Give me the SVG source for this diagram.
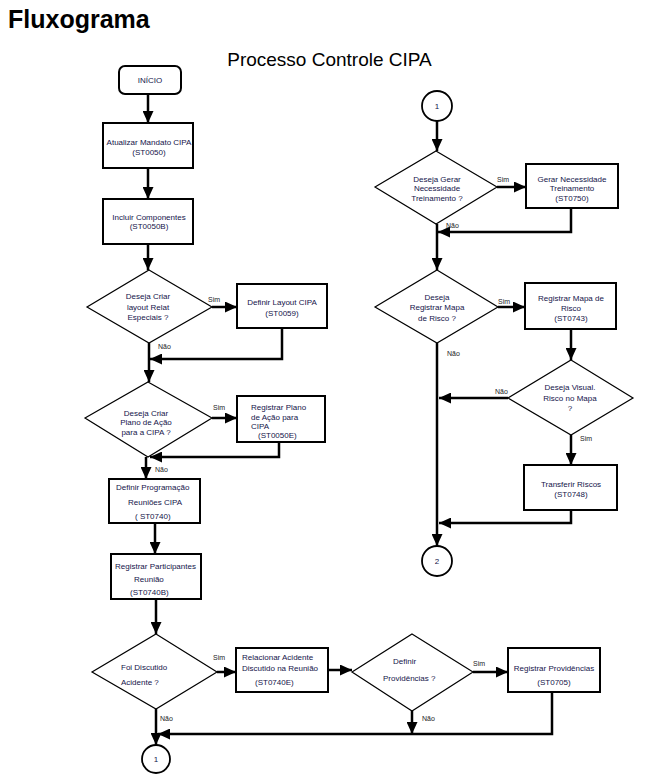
<svg xmlns="http://www.w3.org/2000/svg" width="646" height="778" viewBox="0 0 646 778">
<defs>
<marker id="ah" markerUnits="userSpaceOnUse" markerWidth="12" markerHeight="11" refX="12" refY="5.5" orient="auto">
<path d="M0,0 L12,5.5 L0,11 z" fill="#000"/>
</marker>
<style>
.box{fill:#fff;stroke:#000;stroke-width:2}
.dia{fill:#fff;stroke:#000;stroke-width:1.2}
.cir{fill:#fff;stroke:#000;stroke-width:1.8}
.t{font-family:"Liberation Sans",Arial,sans-serif;font-size:8px;fill:#14144a}
.m{text-anchor:middle}
.lbl{font-family:"Liberation Sans",Arial,sans-serif;font-size:7px;fill:#222}
.c{fill:none;stroke:#000;stroke-width:2.5}
.ca{fill:none;stroke:#000;stroke-width:2.5;marker-end:url(#ah)}
</style>
</defs>
<rect width="646" height="778" fill="#fff"/>
<text x="8" y="28" font-family="Liberation Sans,Arial,sans-serif" font-size="25" font-weight="bold" fill="#000">Fluxograma</text>
<text x="329.5" y="66" font-family="Liberation Sans,Arial,sans-serif" font-size="19" fill="#000" text-anchor="middle">Processo Controle CIPA</text>

<g id="connectors">
<path class="ca" d="M148,94 V123"/>
<path class="ca" d="M148,168 V199"/>
<path class="ca" d="M148,244 V270"/>
<path class="ca" d="M212,307 H237"/>
<path class="ca" d="M282,328 V359 H150"/>
<path class="ca" d="M149,343 V382"/>
<path class="ca" d="M212,418 H237"/>
<path class="ca" d="M279,442 V457 H150"/>
<path class="ca" d="M146,457 V479"/>
<path class="ca" d="M155,523 V554"/>
<path class="ca" d="M156,599 V634"/>
<path class="ca" d="M217,672 H236"/>
<path class="ca" d="M328,670 H352"/>
<path class="ca" d="M473,672 H508"/>
<path class="ca" d="M552,692 V734 H158"/>
<path class="ca" d="M412,711 V734"/>
<path class="ca" d="M156,709 V745"/>
<path class="ca" d="M437,121 V151"/>
<path class="ca" d="M497,187 H526"/>
<path class="ca" d="M571,208 V232 H438"/>
<path class="ca" d="M437,224 V270"/>
<path class="ca" d="M498,307 H525"/>
<path class="ca" d="M571,329 V360"/>
<path class="ca" d="M508,398 H439"/>
<path class="ca" d="M437,343 V546"/>
<path class="ca" d="M571,435 V465"/>
<path class="ca" d="M571,510 V523 H439"/>
<g class="lbl">
<text x="208" y="302">Sim</text>
<text x="158" y="349">Não</text>
<text x="213" y="410">Sim</text>
<text x="155" y="472">Não</text>
<text x="213" y="660">Sim</text>
<text x="160" y="721">Não</text>
<text x="473" y="666">Sim</text>
<text x="422" y="721">Não</text>
<text x="497" y="182">Sim</text>
<text x="446" y="228">Não</text>
<text x="498" y="304">Sim</text>
<text x="447" y="356">Não</text>
<text x="495" y="394">Não</text>
<text x="580" y="441">Sim</text>
</g>
</g>

<g id="inicio">
<rect x="119" y="66" width="62" height="28" rx="6" class="box"/>
<text x="150" y="83" class="t m">INÍCIO</text>
</g>
<g id="st0050">
<rect x="103" y="123" width="90" height="45" class="box"/>
<text x="149" y="145" class="t m">Atualizar Mandato CIPA</text>
<text x="149" y="155" class="t m">(ST0050)</text>
</g>
<g id="st0050b">
<rect x="103" y="199" width="90" height="45" class="box"/>
<text x="149" y="220" class="t m">Incluir Componentes</text>
<text x="149" y="229" class="t m">(ST0050B)</text>
</g>
<g id="dec-layout">
<polygon points="149,270 212,307 149,343 87,307" class="dia"/>
<text x="148" y="299" class="t m">Deseja Criar</text>
<text x="148" y="310" class="t m">layout Relat</text>
<text x="148" y="320" class="t m">Especiais ?</text>
</g>
<g id="st0059">
<rect x="237" y="284" width="90" height="44" class="box"/>
<text x="282" y="305" class="t m">Definir Layout CIPA</text>
<text x="282" y="316" class="t m">(ST0059)</text>
</g>
<g id="dec-plano">
<polygon points="148,382 212,418 148,457 85,418" class="dia"/>
<text x="146" y="416" class="t m">Deseja Criar</text>
<text x="146" y="425" class="t m">Plano de Ação</text>
<text x="146" y="435" class="t m">para a CIPA ?</text>
</g>
<g id="st0050e">
<rect x="237" y="396" width="88" height="46" class="box"/>
<text x="251" y="410" class="t">Registrar Plano</text>
<text x="251" y="420" class="t">de Ação para</text>
<text x="251" y="429" class="t">CIPA</text>
<text x="258" y="438" class="t">(ST0050E)</text>
</g>
<g id="st0740">
<rect x="109" y="479" width="91" height="44" class="box"/>
<text x="116" y="490" class="t">Definir Programação</text>
<text x="128" y="505" class="t">Reuniões CIPA</text>
<text x="135" y="519" class="t">( ST0740)</text>
</g>
<g id="st0740b">
<rect x="111" y="554" width="90" height="45" class="box"/>
<text x="115" y="569" class="t">Registrar Participantes</text>
<text x="134" y="582" class="t">Reunião</text>
<text x="130" y="595" class="t">(ST0740B)</text>
</g>
<g id="dec-acidente">
<polygon points="156,634 217,672 156,709 92,672" class="dia"/>
<text x="121" y="670" class="t">Foi Discutido</text>
<text x="121" y="685" class="t">Acidente ?</text>
</g>
<g id="st0740e">
<rect x="236" y="648" width="92" height="44" class="box"/>
<text x="242" y="660" class="t">Relacionar Acidente</text>
<text x="242" y="671" class="t">Discutido na Reunião</text>
<text x="255" y="685" class="t">(ST0740E)</text>
</g>
<g id="dec-providencias">
<polygon points="412,634 473,672 412,711 352,672" class="dia"/>
<text x="393" y="664" class="t">Definir</text>
<text x="383" y="681" class="t">Providências ?</text>
</g>
<g id="st0705">
<rect x="508" y="648" width="92" height="44" class="box"/>
<text x="554" y="671" class="t m">Registrar Providências</text>
<text x="554" y="685" class="t m">(ST0705)</text>
</g>
<g id="conn1-out">
<circle cx="156" cy="759" r="14" class="cir"/>
<text x="156" y="762" class="t m">1</text>
</g>

<g id="conn1-in">
<circle cx="437" cy="106" r="15" class="cir"/>
<text x="437" y="109" class="t m">1</text>
</g>
<g id="dec-treinamento">
<polygon points="436,151 497,187 436,224 375,187" class="dia"/>
<text x="437" y="182" class="t m">Deseja Gerar</text>
<text x="437" y="191" class="t m">Necessidade</text>
<text x="437" y="201" class="t m">Treinamento ?</text>
</g>
<g id="st0750">
<rect x="526" y="164" width="92" height="44" class="box"/>
<text x="572" y="182" class="t m">Gerar Necessidade</text>
<text x="572" y="191" class="t m">Treinamento</text>
<text x="572" y="201" class="t m">(ST0750)</text>
</g>
<g id="dec-mapa">
<polygon points="437,270 498,307 437,343 375,307" class="dia"/>
<text x="437" y="300" class="t m">Deseja</text>
<text x="437" y="310" class="t m">Registrar Mapa</text>
<text x="437" y="321" class="t m">de Risco ?</text>
</g>
<g id="st0743">
<rect x="525" y="283" width="91" height="46" class="box"/>
<text x="571" y="301" class="t m">Registrar Mapa de</text>
<text x="571" y="311" class="t m">Risco</text>
<text x="571" y="321" class="t m">(ST0743)</text>
</g>
<g id="dec-visual">
<polygon points="571,360 633,398 571,435 508,398" class="dia"/>
<text x="570" y="390" class="t m">Deseja Visual.</text>
<text x="570" y="401" class="t m">Risco no Mapa</text>
<text x="570" y="411" class="t m">?</text>
</g>
<g id="st0748">
<rect x="524" y="465" width="93" height="45" class="box"/>
<text x="571" y="487" class="t m">Transferir Riscos</text>
<text x="571" y="497" class="t m">(ST0748)</text>
</g>
<g id="conn2">
<circle cx="437" cy="561" r="15" class="cir"/>
<text x="437" y="564" class="t m">2</text>
</g>
</svg>
